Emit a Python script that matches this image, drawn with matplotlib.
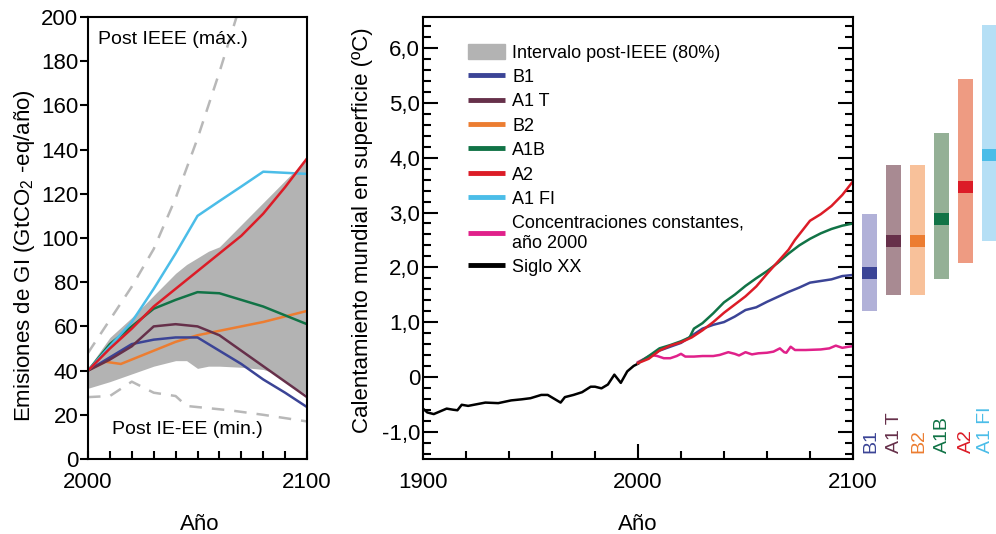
import matplotlib
matplotlib.use('Agg')
import matplotlib.pyplot as plt
from matplotlib.lines import Line2D
from matplotlib.patches import Patch
from matplotlib.ticker import MultipleLocator, FixedLocator

plt.rcParams['font.family'] = ['Liberation Sans', 'DejaVu Sans']
plt.rcParams['mathtext.fontset'] = 'custom'
plt.rcParams['mathtext.rm'] = 'Liberation Sans'
NARROW = ['Liberation Sans Narrow', 'Liberation Sans', 'DejaVu Sans']

# ── Colours per scenario ──────────────────────────────────────────────────
C_B1, C_A1T, C_B2 = '#3b4496', '#66304a', '#ec7d31'
C_A1B, C_A2, C_A1FI = '#117346', '#dc1c27', '#4bbde8'
C_CONST = '#e0218a'
GRAY = '#b3b3b3'

# ── Left panel: GHG emissions (GtCO2-eq/yr) ───────────────────────────────
band_years = [2000, 2010, 2020, 2030, 2040, 2045, 2050, 2055, 2060, 2070,
              2080, 2085, 2090, 2095, 2100]
band_hi = [41, 55, 64, 74, 84, 88, 91, 94, 96, 106, 116, 121, 126, 131, 137]
band_lo = [32, 35, 38.5, 42, 44.5, 44.5, 41, 42, 42, 41.5, 40.5, 39, 35, 32, 29]

max_years = [2000, 2010, 2020, 2030, 2040, 2050, 2060, 2070]
max_vals = [48, 63, 78, 95, 118, 145, 175, 207]
min_years = [2000, 2010, 2020, 2030, 2040, 2045, 2050, 2065, 2080, 2100]
min_vals = [28, 28.5, 35, 30, 28.5, 24, 23.5, 22, 20, 17]

em_years = [2000, 2010, 2020, 2030, 2040, 2050, 2060, 2070, 2080, 2090, 2100]
em_a1fi = [40, 51, 62, 77, 93, 110, 116.7, 123.3, 130, 129.5, 129]
em_a2 = [40, 50, 59, 69, 77, 85, 93, 101, 111, 123, 136]
em_a1b = [40, 52, 60, 68, 72, 75.5, 75, 72, 69, 65, 61]
em_a1t = [40, 45, 51, 60, 61, 60, 56, 49, 42, 35, 28]
em_b1 = [40, 46, 52, 54, 55, 55, 49, 43, 36, 30, 23.5]
b2_years = [2000, 2008, 2015, 2020, 2030, 2040, 2050, 2060, 2070, 2080, 2090, 2100]
em_b2 = [40, 44, 43, 45, 49, 53, 56, 58, 60, 62, 64.5, 67]

# ── Right panel: surface warming (°C) ─────────────────────────────────────
hist_years = [1900, 1902, 1905, 1908, 1911, 1914, 1916, 1918, 1921, 1925,
              1929, 1935, 1941, 1946, 1950, 1955, 1958, 1961, 1964, 1966,
              1970, 1974, 1978, 1980, 1983, 1986, 1989, 1992, 1995, 1998, 2000]
hist_temp = [-0.58, -0.65, -0.68, -0.63, -0.58, -0.60, -0.61, -0.51, -0.53,
             -0.50, -0.47, -0.48, -0.43, -0.41, -0.39, -0.33, -0.33, -0.40,
             -0.47, -0.37, -0.33, -0.28, -0.18, -0.18, -0.21, -0.14, 0.04,
             -0.11, 0.10, 0.20, 0.24]

a2_years = [2000, 2005, 2010, 2015, 2020, 2025, 2030, 2035, 2040, 2045, 2050,
            2055, 2060, 2065, 2070, 2073, 2075, 2080, 2085, 2090, 2095, 2100]
a2_temp = [0.25, 0.33, 0.48, 0.57, 0.63, 0.72, 0.85, 1.0, 1.17, 1.32, 1.47,
           1.65, 1.88, 2.1, 2.32, 2.5, 2.6, 2.85, 2.97, 3.12, 3.32, 3.57]

a1b_years = [2000, 2005, 2010, 2015, 2020, 2024, 2026, 2030, 2035, 2040, 2045,
             2050, 2055, 2060, 2065, 2070, 2075, 2080, 2085, 2090, 2095, 2100]
a1b_temp = [0.25, 0.38, 0.52, 0.58, 0.65, 0.72, 0.88, 0.98, 1.16, 1.36, 1.5,
            1.66, 1.8, 1.93, 2.08, 2.25, 2.4, 2.52, 2.62, 2.7, 2.76, 2.8]

b1_years = [2000, 2010, 2020, 2025, 2030, 2035, 2040, 2045, 2050, 2055, 2060,
            2065, 2070, 2075, 2080, 2085, 2090, 2095, 2100]
b1_temp = [0.25, 0.48, 0.62, 0.75, 0.88, 0.95, 1.0, 1.1, 1.22, 1.27, 1.37,
           1.46, 1.55, 1.63, 1.72, 1.75, 1.78, 1.84, 1.86]

const_years = [2000, 2003, 2006, 2009, 2012, 2015, 2018, 2020, 2022, 2026,
               2030, 2035, 2038, 2042, 2045, 2047, 2050, 2053, 2056, 2060,
               2063, 2066, 2068, 2069, 2071, 2073, 2078, 2085, 2089, 2092,
               2095, 2098, 2100]
const_temp = [0.27, 0.33, 0.40, 0.38, 0.34, 0.34, 0.38, 0.42, 0.37, 0.37,
              0.38, 0.38, 0.40, 0.45, 0.42, 0.39, 0.45, 0.41, 0.43, 0.44,
              0.46, 0.52, 0.45, 0.44, 0.55, 0.49, 0.49, 0.50, 0.52, 0.57,
              0.53, 0.55, 0.56]

# ── Likely ranges at 2100 ─────────────────────────────────────────────────
bar_names = ['B1', 'A1 T', 'B2', 'A1B', 'A2', 'A1 FI']
bar_low = [1.1, 1.4, 1.4, 1.7, 2.0, 2.4]
bar_high = [2.9, 3.8, 3.8, 4.4, 5.4, 6.4]
bar_best = [1.8, 2.4, 2.4, 2.8, 3.4, 4.0]
bar_light = ['#b1b1d8', '#a88a92', '#f8c19a', '#94b096', '#ee9b82', '#b5dff5']
bar_dark = [C_B1, C_A1T, C_B2, C_A1B, C_A2, C_A1FI]

W, H = 996, 534
fig = plt.figure(figsize=(W / 100, H / 100), dpi=100)


def px_axes(x0, x1, y0, y1):
    return fig.add_axes([x0 / W, 1 - y1 / H, (x1 - x0) / W, (y1 - y0) / H])


SPINE_W = 1.5
LW = 1.8

# ── Left panel ────────────────────────────────────────────────────────────
ax1 = px_axes(88, 307, 17, 459)
ax1.fill_between(band_years, band_lo, band_hi, color=GRAY, lw=0)
ax1.plot(max_years, max_vals, color='#b8b8b8', lw=LW, ls=(0, (5, 4)))
ax1.plot(min_years, min_vals, color='#b8b8b8', lw=LW, ls=(0, (5, 4)))
ax1.plot(b2_years, em_b2, color=C_B2, lw=LW)
ax1.plot(em_years, em_b1, color=C_B1, lw=LW)
ax1.plot(em_years, em_a1t, color=C_A1T, lw=LW)
ax1.plot(em_years, em_a1b, color=C_A1B, lw=LW)
ax1.plot(em_years, em_a1fi, color=C_A1FI, lw=LW)
ax1.plot(em_years, em_a2, color=C_A2, lw=LW)
ax1.set_xlim(2000, 2100)
ax1.set_ylim(0, 200)
ax1.yaxis.set_major_locator(MultipleLocator(20))
ax1.xaxis.set_major_locator(FixedLocator([2000, 2100]))
ax1.xaxis.set_minor_locator(MultipleLocator(10))
ax1.tick_params(axis='y', direction='out', length=6, width=SPINE_W,
                labelsize=16, pad=1)
ax1.tick_params(axis='x', which='both', direction='in', length=6,
                width=SPINE_W, labelsize=16, pad=9)
for s in ax1.spines.values():
    s.set_linewidth(SPINE_W)
ax1.set_ylabel(r'Emisiones de GI (GtCO$_\mathregular{2}$ -eq/año)', fontsize=16)
ax1.yaxis.set_label_coords(-0.235, 0.46)
ax1.set_xlabel('Año', fontsize=16)
ax1.xaxis.set_label_coords(0.51, -0.124)
ax1.text(0.046, 0.948, 'Post IEEE (máx.)', transform=ax1.transAxes,
         fontsize=14, family=NARROW, va='center', ha='left')
ax1.text(0.11, 0.066, 'Post IE-EE (min.)', transform=ax1.transAxes,
         fontsize=14, family=NARROW, va='center', ha='left')

# ── Right panel ───────────────────────────────────────────────────────────
ax2 = px_axes(423, 853, 17, 459)
ax2.plot(hist_years, hist_temp, color='black', lw=LW)
ax2.plot(const_years, const_temp, color=C_CONST, lw=LW)
ax2.plot(b1_years, b1_temp, color=C_B1, lw=LW)
ax2.plot(a1b_years, a1b_temp, color=C_A1B, lw=LW)
ax2.plot(a2_years, a2_temp, color=C_A2, lw=LW)
ax2.set_xlim(1900, 2100)
ax2.set_ylim(-1.5, 6.57)
ax2.xaxis.set_major_locator(FixedLocator([1900, 2000, 2100]))
ax2.xaxis.set_minor_locator(MultipleLocator(20))
ax2.yaxis.set_minor_locator(MultipleLocator(0.2))
ax2.set_yticks(range(-1, 7))
ax2.set_yticklabels(['-1,0', '0', '1,0', '2,0', '3,0', '4,0', '5,0', '6,0'])
ax2.tick_params(which='both', direction='in', width=SPINE_W, labelsize=16,
                right=True)
ax2.tick_params(axis='y', which='major', length=11, pad=2)
ax2.tick_params(axis='y', which='minor', length=6)
ax2.tick_params(axis='x', which='major', length=11, pad=9)
ax2.tick_params(axis='x', which='minor', length=6)
for s in ax2.spines.values():
    s.set_linewidth(SPINE_W)
ax2.set_ylabel('Calentamiento mundial en superficie (ºC)', fontsize=16)
ax2.yaxis.set_label_coords(-0.116, 0.517)
ax2.set_xlabel('Año', fontsize=16)
ax2.xaxis.set_label_coords(0.5, -0.124)

handles = [Patch(color=GRAY)]
labels = ['Intervalo post-IEEE (80%)']
for c, name in [(C_B1, 'B1'), (C_A1T, 'A1 T'), (C_B2, 'B2'), (C_A1B, 'A1B'),
                (C_A2, 'A2'), (C_A1FI, 'A1 FI'),
                (C_CONST, 'Concentraciones constantes,\naño 2000'),
                ('black', 'Siglo XX')]:
    handles.append(Line2D([], [], color=c, lw=3.5, solid_capstyle='butt'))
    labels.append(name)
ax2.legend(handles, labels, loc='upper left', bbox_to_anchor=(0.105, 0.94),
           frameon=False, prop={'family': NARROW, 'size': 13},
           handlelength=2.05, handleheight=0.95, handletextpad=0.4,
           labelspacing=0.36, borderpad=0, borderaxespad=0)

# ── Likely ranges ─────────────────────────────────────────────────────────
ax3 = px_axes(855, 996, 17, 459)
xs = list(range(len(bar_names)))
ax3.bar(xs, [h - l for h, l in zip(bar_high, bar_low)], bottom=bar_low,
        width=0.625, color=bar_light, lw=0)
ax3.bar(xs, 0.22, bottom=[b - 0.11 for b in bar_best], width=0.625,
        color=bar_dark, lw=0)
ax3.set_xlim(-0.604, 5.27)
ax3.set_ylim(-1.64, 6.55)
for x, name, c in zip(xs, bar_names, bar_dark):
    xt = min(x + 0.05, 4.85)
    ax3.text(xt, -1.53, name, rotation=90, ha='center', va='bottom',
             color=c, fontsize=14, family=NARROW)
ax3.axis('off')

plt.savefig('out.png', dpi=100)
